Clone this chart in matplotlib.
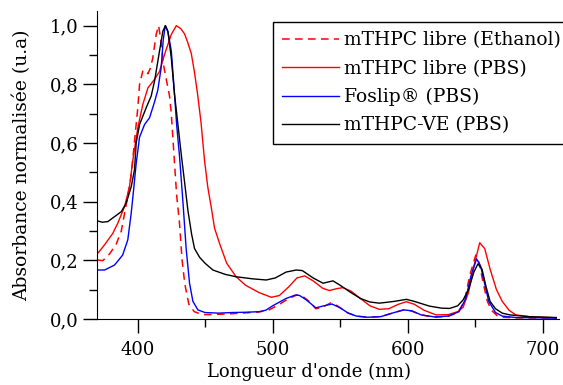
import numpy as np
import matplotlib
matplotlib.use('Agg')
import matplotlib.pyplot as plt
from matplotlib.ticker import MultipleLocator, FuncFormatter

plt.rcParams['font.family'] = ['DejaVu Serif']

# spectra (wavelength nm, normalised absorbance)
wl_etoh = [370.6, 374.3, 379.3, 384.2, 388, 390.4, 392.8, 395, 396.8, 398.5, 400.2, 401.5,
           403.9, 405.7, 407.7, 409.5, 411.3, 413.8, 415.6, 417, 419.5, 422, 423.7, 425,
           427.4, 429, 431, 433, 435, 438, 442, 448, 455, 470, 480, 490, 497, 505, 512,
           518, 522, 527, 532, 537, 543, 548, 555, 562, 570, 580, 590, 597, 603, 610,
           620, 630, 637, 642, 646, 650.4, 653, 656, 659, 662, 666, 670, 680, 710]
abs_etoh = [0.201, 0.199, 0.222, 0.255, 0.30, 0.36, 0.42, 0.48, 0.56, 0.64, 0.72, 0.80,
            0.845, 0.848, 0.836, 0.855, 0.89, 0.97, 1.0, 0.96, 0.86, 0.80, 0.76, 0.70,
            0.53, 0.42, 0.33, 0.20, 0.12, 0.05, 0.025, 0.015, 0.015, 0.018, 0.021, 0.024,
            0.03, 0.05, 0.07, 0.082, 0.078, 0.06, 0.035, 0.04, 0.055, 0.045, 0.022, 0.01,
            0.006, 0.008, 0.022, 0.031, 0.027, 0.014, 0.006, 0.009, 0.022, 0.06, 0.15, 0.218,
            0.19, 0.12, 0.06, 0.03, 0.012, 0.006, 0.004, 0.003]

wl_pbs = [370.6, 375.6, 381.7, 385.4, 390.4, 394, 396.5, 400.2, 403.9, 407.7, 412.6, 416.3,
          420, 425, 428.7, 432, 434.8, 437, 439.8, 442.2, 444.5, 447, 449.6, 452, 454.6,
          457, 460.7, 466, 473, 480, 490, 499, 505, 512, 518, 523.7, 530, 537, 542, 547,
          552, 558, 565, 572, 579, 586, 593, 599, 605, 612, 621, 630, 637, 641, 645, 649,
          653.3, 657, 661, 665.7, 670, 675, 680, 690, 710]
abs_pbs = [0.224, 0.253, 0.292, 0.327, 0.383, 0.45, 0.54, 0.652, 0.731, 0.788, 0.817, 0.844,
           0.902, 0.97, 1.0, 0.99, 0.972, 0.945, 0.905, 0.84, 0.765, 0.67, 0.54, 0.45, 0.38,
           0.31, 0.258, 0.19, 0.144, 0.115, 0.09, 0.074, 0.08, 0.11, 0.14, 0.147, 0.13,
           0.105, 0.097, 0.103, 0.107, 0.095, 0.07, 0.045, 0.033, 0.035, 0.05, 0.059, 0.05,
           0.03, 0.014, 0.015, 0.025, 0.04, 0.09, 0.18, 0.26, 0.24, 0.17, 0.10, 0.06, 0.03,
           0.014, 0.008, 0.004]

wl_foslip = [370.6, 375.6, 383, 389, 392.8, 395.3, 397.3, 399, 401.5, 405.2, 408.9, 412.6,
             415, 417.5, 419, 420.5, 422.5, 425, 427.4, 429, 431.1, 433.6, 436, 438.5, 441,
             444.7, 450, 460, 470, 480, 490, 495, 500, 510, 517, 520, 525, 532, 538, 544,
             550, 556, 562, 570, 580, 590, 597, 603, 610, 620, 630, 638, 643, 647, 651, 654,
             657, 660, 665, 670, 680, 710]
abs_foslip = [0.167, 0.167, 0.184, 0.218, 0.27, 0.36, 0.45, 0.53, 0.62, 0.663, 0.686, 0.74,
              0.78, 0.857, 0.95, 1.0, 0.98, 0.914, 0.765, 0.66, 0.554, 0.40, 0.24, 0.122,
              0.06, 0.031, 0.022, 0.02, 0.022, 0.023, 0.025, 0.03, 0.045, 0.07, 0.082, 0.08,
              0.065, 0.038, 0.045, 0.051, 0.038, 0.02, 0.01, 0.006, 0.008, 0.022, 0.031,
              0.028, 0.014, 0.007, 0.01, 0.025, 0.07, 0.15, 0.205, 0.18, 0.12, 0.06, 0.022,
              0.01, 0.005, 0.003]

wl_ve = [370.6, 374, 378, 383, 388, 391.6, 395.3, 397.8, 399, 401.5, 406.4, 410.1, 412.6,
         416.3, 418.8, 420.7, 422.5, 425, 427.4, 429, 432.4, 435, 437.3, 440, 442.2, 446,
         450, 455.8, 465, 473, 485, 495.3, 502, 510, 517.5, 522, 530, 537.3, 544.7, 550,
         557, 565, 572, 579, 590, 599, 605, 616, 625, 631, 637, 641, 645, 649, 652, 655,
         658, 661, 665, 670, 675.6, 690, 710]
abs_ve = [0.334, 0.33, 0.332, 0.349, 0.366, 0.395, 0.45, 0.51, 0.6, 0.663, 0.72, 0.76, 0.811,
          0.914, 0.982, 1.0, 0.98, 0.89, 0.765, 0.70, 0.56, 0.46, 0.37, 0.29, 0.24, 0.21,
          0.19, 0.167, 0.152, 0.144, 0.137, 0.133, 0.14, 0.16, 0.167, 0.165, 0.14, 0.122,
          0.13, 0.115, 0.093, 0.07, 0.058, 0.054, 0.06, 0.067, 0.06, 0.044, 0.037, 0.036,
          0.045, 0.065, 0.10, 0.16, 0.188, 0.17, 0.11, 0.06, 0.035, 0.02, 0.014, 0.008,
          0.005]

fig = plt.figure(figsize=(5.63, 3.85), dpi=100)
ax = fig.add_axes([97/563, 66/385, 462/563, 308/385])

ax.plot(wl_etoh, abs_etoh, color='#ff0000', lw=1.1, ls=(0, (5, 3.5)), label='mTHPC libre (Ethanol)')
ax.plot(wl_pbs, abs_pbs, color='#ff0000', lw=1.0, label='mTHPC libre (PBS)')
ax.plot(wl_foslip, abs_foslip, color='#0000ff', lw=1.0, label='Foslip® (PBS)')
ax.plot(wl_ve, abs_ve, color='black', lw=1.0, label='mTHPC-VE (PBS)')

ax.set_xlim(370, 712)
ax.set_ylim(0, 1.05)
ax.spines['top'].set_visible(False)
ax.spines['right'].set_visible(False)
ax.xaxis.set_major_locator(MultipleLocator(100))
ax.xaxis.set_minor_locator(MultipleLocator(50))
ax.yaxis.set_major_locator(MultipleLocator(0.2))
ax.yaxis.set_minor_locator(MultipleLocator(0.1))
ax.yaxis.set_major_formatter(FuncFormatter(lambda v, p: f'{v:.1f}'.replace('.', ',')))
ax.tick_params(which='major', direction='out', length=10, width=1, labelsize=13)
ax.tick_params(axis='x', which='major', pad=6)
ax.tick_params(axis='y', which='major', pad=3)
ax.tick_params(which='minor', direction='out', length=6, width=1)

ax.set_xlabel("Longueur d'onde (nm)", fontsize=13)
ax.set_ylabel('Absorbance normalisée (u.a)', fontsize=13.5)
ax.xaxis.set_label_coords(0.459, -0.143)
ax.yaxis.set_label_coords(-0.142, 0.5)

leg = ax.legend(loc='upper left', bbox_to_anchor=(273/563, 1 - 22/385),
                bbox_transform=fig.transFigure, fontsize=13.5, frameon=True,
                fancybox=False, framealpha=1, edgecolor='black', borderaxespad=0,
                handlelength=3.0, handletextpad=0.3, labelspacing=0.55, borderpad=0.5)
leg.get_frame().set_linewidth(1.0)

fig.savefig('out.png', dpi=100, facecolor='white')
